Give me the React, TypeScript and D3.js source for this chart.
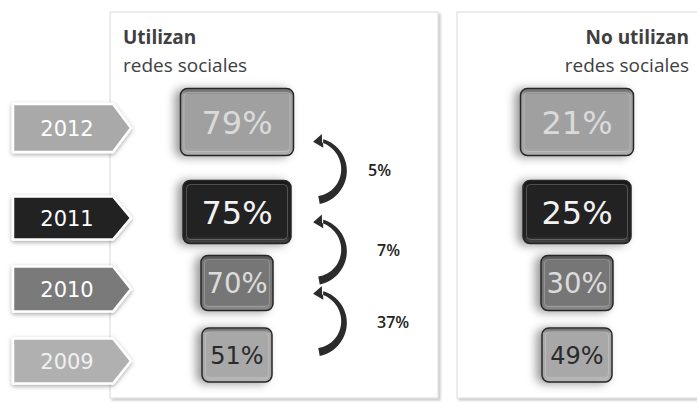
import * as d3 from 'd3';

// data
const years = ['2012', '2011', '2010', '2009'];
const utilizan = [79, 75, 70, 51];
const noUtilizan = [21, 25, 30, 49];
const changes = [5, 7, 37];

// row styling (per year)
const tagFill = ['#a9a9a9', '#222222', '#7a7a7a', '#b0b0b0'];
const boxFill = ['#a0a0a0', '#222222', '#767676', '#a8a8a8'];
const boxText = ['#dadada', '#f2f2f2', '#dcdcdc', '#2a2a2a'];
const boxW = [113, 108, 72, 70];
const boxH = [67, 63, 55, 54];
const boxFont = [32, 32, 27.5, 24];
const tagH = [48, 43, 45, 45];

const W = 697;
const H = 405;
const rowY = d3.scaleOrdinal<string, number>().domain(years).range([122, 212, 283, 355]);
const panelX = d3.scaleOrdinal<string, number>().domain(['uso', 'no']).range([237, 577]);

function curvedArrow(yTop: number, yBot: number) {
  const mid = (yTop + yBot) / 2;
  const h = (yBot - yTop) / 2;
  const xEnd = 319;
  const b = 25;
  const r = (h * h + b * b) / (2 * b);
  const cx = xEnd + b - r;
  const a0 = Math.asin(Math.min(1, h / r));
  const aStart = a0; // bottom
  const aEnd = -a0 + 0.12; // top, leave room for head
  const n = 30;
  const outer: [number, number][] = [];
  const inner: [number, number][] = [];
  for (let i = 0; i <= n; i++) {
    const t = i / n;
    const a = aStart + (aEnd - aStart) * t;
    const w = 8 - 4.5 * t;
    outer.push([cx + (r + w / 2) * Math.cos(a), mid + (r + w / 2) * Math.sin(a)]);
    inner.push([cx + (r - w / 2) * Math.cos(a), mid + (r - w / 2) * Math.sin(a)]);
  }
  const p = d3.path();
  p.moveTo(outer[0][0], outer[0][1]);
  outer.forEach(q => p.lineTo(q[0], q[1]));
  // arrow head
  const px = cx + r * Math.cos(aEnd);
  const py = mid + r * Math.sin(aEnd);
  let dx = Math.sin(aEnd);
  let dy = -Math.cos(aEnd);
  const rot = -0.4;
  const ddx = dx * Math.cos(rot) - dy * Math.sin(rot);
  const ddy = dx * Math.sin(rot) + dy * Math.cos(rot);
  dx = ddx; dy = ddy;
  const nx = -dy;
  const ny = dx;
  p.lineTo(px - nx * 7, py - ny * 7);
  p.lineTo(px + dx * 9.5, py + dy * 9.5);
  p.lineTo(px + nx * 7, py + ny * 7);
  for (let i = n; i >= 0; i--) p.lineTo(inner[i][0], inner[i][1]);
  p.closePath();
  return { d: p.toString(), mid };
}

function Box({ cx, i, value }: { cx: number; i: number; value: number }) {
  const w = boxW[i];
  const h = boxH[i];
  const x = cx - w / 2;
  const y = rowY(years[i]) - h / 2;
  return (
    <g>
      <rect x={x} y={y} width={w} height={h} rx={7} fill={boxFill[i]} stroke="#262626" strokeWidth={1.5} filter="url(#boxShadow)" />
      <rect x={x + 1} y={y + 1} width={w - 2} height={h - 2} rx={6} fill="url(#bevel)" />
      <rect x={x + 3.5} y={y + 4} width={w - 7} height={h - 8} rx={4} fill="none" stroke="rgba(255,255,255,0.22)" strokeWidth={1} />
      <text
        x={cx}
        y={rowY(years[i])}
        dy="0.36em"
        textAnchor="middle"
        fontFamily="'DejaVu Sans', Verdana, sans-serif"
        fontSize={boxFont[i]}
        fill={boxText[i]}
      >
        {value}%
      </text>
    </g>
  );
}

export default function App() {
  const tagX0 = 13;
  const tagXb = 113;
  const tagXt = 131;
  return (
    <svg width={W} height={H} style={{ position: 'absolute', left: 0, top: 0, background: '#fff' }}>
      <defs>
        <filter id="boxShadow" x="-60%" y="-60%" width="220%" height="220%">
          <feDropShadow dx={-5} dy={1} stdDeviation={5} floodColor="#000" floodOpacity={0.4} />
        </filter>
        <filter id="tagShadow" x="-20%" y="-30%" width="140%" height="160%">
          <feDropShadow dx={0} dy={1.5} stdDeviation={2} floodColor="#000" floodOpacity={0.35} />
        </filter>
        <filter id="panelShadow" x="-5%" y="-5%" width="110%" height="110%">
          <feDropShadow dx={2} dy={2} stdDeviation={1} floodColor="#000" floodOpacity={0.22} />
        </filter>
        <linearGradient id="bevel" x1="0" y1="0" x2="0" y2="1">
          <stop offset="0" stopColor="#000" stopOpacity={0.35} />
          <stop offset="0.08" stopColor="#000" stopOpacity={0} />
          <stop offset="0.9" stopColor="#fff" stopOpacity={0} />
          <stop offset="1" stopColor="#fff" stopOpacity={0.18} />
        </linearGradient>
      </defs>

      {/* panels */}
      <rect x={110} y={12} width={328} height={386} fill="#fff" stroke="#dadada" strokeWidth={1} filter="url(#panelShadow)" />
      <rect x={457} y={12} width={270} height={386} fill="#fff" stroke="#dadada" strokeWidth={1} filter="url(#panelShadow)" />

      {/* titles */}
      <g fontFamily="'Open Sans', sans-serif" fill="#404040" fontSize={19}>
        <text x={123} y={44} fontWeight={700}>Utilizan</text>
        <text x={123} y={72}>redes sociales</text>
        <text x={689} y={44} fontWeight={700} textAnchor="end">No utilizan</text>
        <text x={689} y={72} textAnchor="end">redes sociales</text>
      </g>

      {/* year tags */}
      {years.map((yr, i) => {
        const cy = rowY(yr) + 6;
        const h = tagH[i];
        const pts = [
          [tagX0, cy - h / 2],
          [tagXb, cy - h / 2],
          [tagXt, cy],
          [tagXb, cy + h / 2],
          [tagX0, cy + h / 2],
        ];
        return (
          <g key={yr}>
            <polygon
              points={pts.map(p => p.join(',')).join(' ')}
              fill={tagFill[i]}
              stroke="#fff"
              strokeWidth={2.5}
              strokeLinejoin="round"
              filter="url(#tagShadow)"
            />
            <text
              x={67}
              y={cy}
              dy="0.36em"
              textAnchor="middle"
              fontFamily="'DejaVu Sans', Verdana, sans-serif"
              fontSize={21}
              fill={i === 3 ? '#f0f0f0' : '#ffffff'}
            >
              {yr}
            </text>
          </g>
        );
      })}

      {/* boxes */}
      {years.map((yr, i) => (
        <g key={'b' + yr}>
          <Box cx={panelX('uso')} i={i} value={utilizan[i]} />
          <Box cx={panelX('no')} i={i} value={noUtilizan[i]} />
        </g>
      ))}

      {/* change arrows */}
      {changes.map((c, i) => {
        const yA = rowY(years[i]);
        const yB = rowY(years[i + 1]);
        const m = (yA + yB) / 2 + 3;
        const arr = curvedArrow(m - 30, m + 30);
        return (
          <g key={'c' + i}>
            <path d={arr.d} fill="#2b2b2b" />
            <text
              x={i === 0 ? 368 : 377}
              y={arr.mid}
              dy="0.36em"
              fontFamily="'Open Sans', sans-serif"
              fontWeight={600}
              fontSize={16}
              fill="#222"
            >
              {c}%
            </text>
          </g>
        );
      })}
    </svg>
  );
}
